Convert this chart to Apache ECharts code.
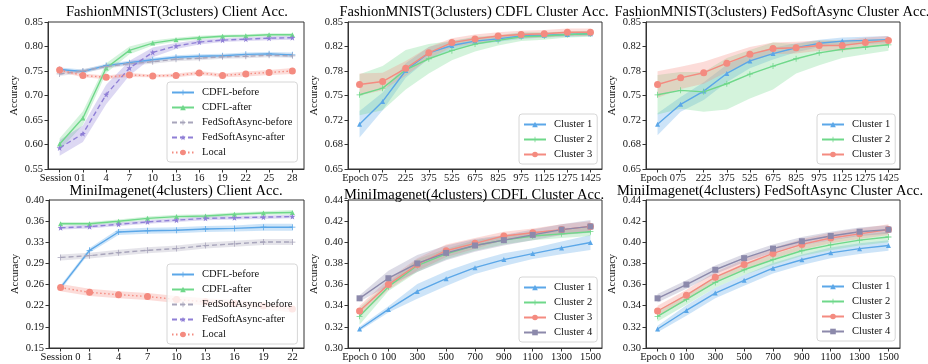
<!DOCTYPE html>
<html>
<head>
<meta charset="utf-8">
<script src="https://cdn.jsdelivr.net/npm/echarts@6/dist/echarts.min.js"></script>
<style>
  html, body { margin: 0; padding: 0; background: #fff; }
  #main { width: 928px; height: 364px; }
</style>
</head>
<body>
<div id="main"></div>
<script>
// x tick labels
var fmSessions = ['Session 0', '1', '4', '7', '10', '13', '16', '19', '22', '25', '28'];
var fmEpochs = ['Epoch 0', '75', '225', '375', '525', '675', '825', '975', '1125', '1275', '1425'];
var miSessions = ['Session 0', '1', '4', '7', '10', '13', '16', '19', '22'];
var miEpochs = ['Epoch 0', '100', '300', '500', '700', '900', '1100', '1300', '1500'];

// y tick values
var fmClientTicks = [0.55, 0.60, 0.65, 0.70, 0.75, 0.80, 0.85];
var fmClusterTicks = [0.65, 0.6833, 0.7167, 0.75, 0.7833, 0.8167, 0.85];
var miClientTicks = [0.15, 0.1857, 0.2214, 0.2571, 0.2929, 0.3286, 0.3643, 0.40];
var miClusterTicks = [0.30, 0.32, 0.34, 0.36, 0.38, 0.40, 0.42, 0.44];

// FashionMNIST client acc. (mean, spread)
var fmCdflBefore = [0.753, 0.749, 0.761, 0.767, 0.773, 0.778, 0.780, 0.781, 0.784, 0.785, 0.783];
var fmCdflBeforeErr = [0.004, 0.004, 0.004, 0.004, 0.004, 0.004, 0.004, 0.004, 0.004, 0.004, 0.005];
var fmCdflAfter = [0.601, 0.654, 0.756, 0.792, 0.807, 0.814, 0.818, 0.821, 0.822, 0.824, 0.824];
var fmCdflAfterErr = [0.012, 0.014, 0.010, 0.008, 0.005, 0.004, 0.004, 0.003, 0.003, 0.003, 0.003];
var fmFsaBefore = [0.744, 0.750, 0.759, 0.765, 0.769, 0.774, 0.776, 0.779, 0.780, 0.782, 0.781];
var fmFsaBeforeErr = [0.004, 0.004, 0.004, 0.004, 0.004, 0.004, 0.004, 0.004, 0.004, 0.004, 0.004];
var fmFsaAfter = [0.593, 0.622, 0.702, 0.756, 0.788, 0.801, 0.809, 0.813, 0.815, 0.817, 0.818];
var fmFsaAfterErr = [0.016, 0.017, 0.020, 0.015, 0.010, 0.006, 0.005, 0.004, 0.004, 0.004, 0.004];
var fmLocal = [0.752, 0.741, 0.737, 0.742, 0.740, 0.741, 0.746, 0.741, 0.744, 0.747, 0.750];
var fmLocalErr = [0.004, 0.004, 0.004, 0.004, 0.003, 0.004, 0.004, 0.004, 0.005, 0.005, 0.006];

// FashionMNIST CDFL clusters
var fmCdflC1 = [0.711, 0.742, 0.784, 0.808, 0.818, 0.824, 0.827, 0.831, 0.832, 0.833, 0.834];
var fmCdflC1Err = [0.018, 0.012, 0.010, 0.008, 0.006, 0.005, 0.004, 0.004, 0.003, 0.003, 0.003];
var fmCdflC2 = [0.751, 0.760, 0.785, 0.800, 0.811, 0.820, 0.825, 0.830, 0.831, 0.833, 0.834];
var fmCdflC2Err = [0.028, 0.030, 0.027, 0.020, 0.013, 0.010, 0.007, 0.006, 0.005, 0.004, 0.004];
var fmCdflC3 = [0.765, 0.769, 0.787, 0.808, 0.822, 0.827, 0.831, 0.833, 0.834, 0.836, 0.836];
var fmCdflC3Err = [0.015, 0.012, 0.010, 0.008, 0.006, 0.006, 0.005, 0.005, 0.005, 0.005, 0.005];

// FashionMNIST FedSoftAsync clusters
var fmFsaC1 = [0.711, 0.738, 0.756, 0.780, 0.797, 0.807, 0.815, 0.821, 0.824, 0.825, 0.826];
var fmFsaC1Err = [0.015, 0.010, 0.012, 0.012, 0.010, 0.008, 0.006, 0.005, 0.005, 0.005, 0.005];
var fmFsaC2 = [0.751, 0.757, 0.755, 0.766, 0.779, 0.790, 0.800, 0.808, 0.813, 0.816, 0.819];
var fmFsaC2Err = [0.027, 0.025, 0.027, 0.035, 0.033, 0.032, 0.020, 0.017, 0.012, 0.010, 0.008];
var fmFsaC3 = [0.765, 0.774, 0.781, 0.794, 0.806, 0.814, 0.815, 0.818, 0.818, 0.822, 0.825];
var fmFsaC3Err = [0.018, 0.015, 0.015, 0.012, 0.010, 0.008, 0.008, 0.007, 0.007, 0.007, 0.006];

// MiniImagenet client acc.
var miCdflBefore = [0.252, 0.315, 0.346, 0.348, 0.349, 0.351, 0.352, 0.354, 0.354];
var miCdflBeforeErr = [0.004, 0.004, 0.005, 0.005, 0.005, 0.005, 0.005, 0.006, 0.006];
var miCdflAfter = [0.360, 0.360, 0.364, 0.369, 0.372, 0.373, 0.376, 0.378, 0.379];
var miCdflAfterErr = [0.003, 0.003, 0.003, 0.003, 0.003, 0.003, 0.003, 0.003, 0.004];
var miFsaBefore = [0.303, 0.306, 0.311, 0.315, 0.318, 0.323, 0.326, 0.329, 0.329];
var miFsaBeforeErr = [0.005, 0.005, 0.005, 0.005, 0.005, 0.005, 0.005, 0.005, 0.005];
var miFsaAfter = [0.353, 0.355, 0.359, 0.363, 0.366, 0.369, 0.370, 0.371, 0.372];
var miFsaAfterErr = [0.003, 0.003, 0.003, 0.003, 0.003, 0.003, 0.003, 0.003, 0.003];
var miLocal = [0.252, 0.244, 0.240, 0.237, 0.232, 0.228, 0.225, 0.221, 0.216];
var miLocalErr = [0.006, 0.006, 0.006, 0.006, 0.006, 0.006, 0.006, 0.006, 0.006];

// MiniImagenet CDFL clusters
var miCdflC1 = [0.318, 0.3365, 0.3535, 0.3656, 0.376, 0.3836, 0.3893, 0.3947, 0.3998];
var miCdflC1Err = [0.002, 0.003, 0.007, 0.007, 0.006, 0.006, 0.005, 0.006, 0.007];
var miCdflC2 = [0.330, 0.358, 0.378, 0.389, 0.397, 0.402, 0.406, 0.408, 0.410];
var miCdflC2Err = [0.008, 0.004, 0.006, 0.005, 0.005, 0.004, 0.004, 0.004, 0.004];
var miCdflC3 = [0.335, 0.360, 0.379, 0.392, 0.399, 0.406, 0.409, 0.412, 0.415];
var miCdflC3Err = [0.005, 0.005, 0.006, 0.006, 0.005, 0.004, 0.004, 0.005, 0.005];
var miCdflC4 = [0.347, 0.366, 0.380, 0.390, 0.397, 0.402, 0.407, 0.412, 0.415];
var miCdflC4Err = [0.003, 0.007, 0.008, 0.007, 0.006, 0.005, 0.005, 0.005, 0.006];

// MiniImagenet FedSoftAsync clusters
var miFsaC1 = [0.318, 0.3355, 0.352, 0.364, 0.3755, 0.3835, 0.390, 0.394, 0.397];
var miFsaC1Err = [0.003, 0.005, 0.005, 0.005, 0.005, 0.005, 0.005, 0.005, 0.005];
var miFsaC2 = [0.330, 0.346, 0.362, 0.374, 0.3835, 0.392, 0.3975, 0.402, 0.405];
var miFsaC2Err = [0.005, 0.005, 0.005, 0.005, 0.005, 0.005, 0.005, 0.005, 0.005];
var miFsaC3 = [0.335, 0.350, 0.367, 0.379, 0.3895, 0.398, 0.404, 0.408, 0.412];
var miFsaC3Err = [0.005, 0.005, 0.005, 0.005, 0.005, 0.005, 0.005, 0.005, 0.005];
var miFsaC4 = [0.347, 0.360, 0.374, 0.385, 0.394, 0.401, 0.406, 0.410, 0.412];
var miFsaC4Err = [0.004, 0.004, 0.004, 0.004, 0.004, 0.004, 0.004, 0.004, 0.004];

var FONT = '"Liberation Serif", "Times New Roman", serif';
var PLUS = 'path://M-0.13,-1H0.13V-0.13H1V0.13H0.13V1H-0.13V0.13H-1V-0.13H-0.13Z';
var STAR = 'path://M0,-1L0.235,-0.324L0.951,-0.309L0.38,0.124L0.588,0.809L0,0.4L-0.588,0.809L-0.38,0.124L-0.951,-0.309L-0.235,-0.324Z';

var sty = {
  cdflBefore: { color: '#5ba7e8', symbol: PLUS, size: 6, dash: 'solid' },
  cdflAfter:  { color: '#6fd88a', symbol: 'triangle', size: 5, dash: 'solid' },
  fsaBefore:  { color: '#a8a5bb', symbol: PLUS, size: 6, dash: [5, 3] },
  fsaAfter:   { color: '#8f7fd6', symbol: STAR, size: 6, dash: [5, 3] },
  local:      { color: '#f48b80', symbol: 'circle', size: 7, dash: [1.5, 2.5] },
  c1: { color: '#5ba7e8', symbol: 'triangle', size: 5, dash: 'solid' },
  c2: { color: '#6fd88a', symbol: PLUS, size: 6, dash: 'solid' },
  c3: { color: '#f48b80', symbol: 'circle', size: 7, dash: 'solid' },
  c4: { color: '#8c89ab', symbol: 'rect', size: 6, dash: 'solid' }
};

var chart = echarts.init(document.getElementById('main'));

var grids = [
  { left: 48, top: 22, width: 256, height: 147 },
  { left: 348, top: 22, width: 254, height: 147 },
  { left: 646, top: 22, width: 254, height: 147 },
  { left: 49, top: 200, width: 255, height: 148 },
  { left: 348, top: 200, width: 254, height: 148 },
  { left: 646, top: 200, width: 254, height: 148 }
];
grids.forEach(function (g) {
  g.show = true;
  g.borderColor = '#333';
  g.borderWidth = 1;
  g.containLabel = false;
});

function xAxisFor(gi, labels) {
  var n = labels.length, pad = (n - 1) * 0.05;
  var idx = labels.map(function (l, i) { return i; });
  return {
    type: 'value', gridIndex: gi, min: -pad, max: n - 1 + pad,
    splitLine: { show: false },
    axisLine: { show: true, onZero: false, lineStyle: { color: '#333' } },
    axisTick: { show: true, length: 3.5, customValues: idx, lineStyle: { color: '#333' } },
    axisLabel: {
      customValues: idx, margin: 4, fontSize: 10.5, fontFamily: FONT, color: '#111',
      formatter: function (v) { return labels[Math.round(v)]; }
    }
  };
}

function yAxisFor(gi, ticks) {
  return {
    type: 'value', gridIndex: gi, min: ticks[0], max: ticks[ticks.length - 1],
    name: 'Accuracy', nameLocation: 'middle', nameGap: 28, nameRotate: 90,
    nameTextStyle: { fontSize: 10.5, fontFamily: FONT, color: '#111' },
    splitLine: { show: false },
    axisLine: { show: true, onZero: false, lineStyle: { color: '#333' } },
    axisTick: { show: true, length: 3.5, customValues: ticks, lineStyle: { color: '#333' } },
    axisLabel: {
      customValues: ticks, margin: 5, fontSize: 10.5, fontFamily: FONT, color: '#111',
      formatter: function (v) { return v.toFixed(2); }
    }
  };
}

var series = [];

function addLine(gi, name, vals, err, st) {
  series.push({
    type: 'custom', xAxisIndex: gi, yAxisIndex: gi, silent: true, z: 1,
    data: vals.map(function (v, i) { return [i, v - err[i], v + err[i]]; }),
    encode: { x: 0, y: [1, 2] },
    renderItem: function (params, api) {
      if (params.dataIndex !== 0) return;
      var pts = [];
      for (var i = 0; i < vals.length; i++) pts.push(api.coord([i, vals[i] + err[i]]));
      for (var j = vals.length - 1; j >= 0; j--) pts.push(api.coord([j, vals[j] - err[j]]));
      return { type: 'polygon', shape: { points: pts }, style: { fill: st.color, opacity: 0.3 } };
    }
  });
  series.push({
    type: 'line', name: name, xAxisIndex: gi, yAxisIndex: gi, z: 2,
    data: vals.map(function (v, i) { return [i, v]; }),
    symbol: st.symbol, symbolSize: st.size, showSymbol: true,
    lineStyle: { color: st.color, width: 1.4, type: st.dash },
    itemStyle: { color: st.color }
  });
}

addLine(0, 'CDFL-before', fmCdflBefore, fmCdflBeforeErr, sty.cdflBefore);
addLine(0, 'CDFL-after', fmCdflAfter, fmCdflAfterErr, sty.cdflAfter);
addLine(0, 'FedSoftAsync-before', fmFsaBefore, fmFsaBeforeErr, sty.fsaBefore);
addLine(0, 'FedSoftAsync-after', fmFsaAfter, fmFsaAfterErr, sty.fsaAfter);
addLine(0, 'Local', fmLocal, fmLocalErr, sty.local);

addLine(1, 'Cluster 1', fmCdflC1, fmCdflC1Err, sty.c1);
addLine(1, 'Cluster 2', fmCdflC2, fmCdflC2Err, sty.c2);
addLine(1, 'Cluster 3', fmCdflC3, fmCdflC3Err, sty.c3);

addLine(2, 'Cluster 1', fmFsaC1, fmFsaC1Err, sty.c1);
addLine(2, 'Cluster 2', fmFsaC2, fmFsaC2Err, sty.c2);
addLine(2, 'Cluster 3', fmFsaC3, fmFsaC3Err, sty.c3);

addLine(3, 'CDFL-before', miCdflBefore, miCdflBeforeErr, sty.cdflBefore);
addLine(3, 'CDFL-after', miCdflAfter, miCdflAfterErr, sty.cdflAfter);
addLine(3, 'FedSoftAsync-before', miFsaBefore, miFsaBeforeErr, sty.fsaBefore);
addLine(3, 'FedSoftAsync-after', miFsaAfter, miFsaAfterErr, sty.fsaAfter);
addLine(3, 'Local', miLocal, miLocalErr, sty.local);

addLine(4, 'Cluster 1', miCdflC1, miCdflC1Err, sty.c1);
addLine(4, 'Cluster 2', miCdflC2, miCdflC2Err, sty.c2);
addLine(4, 'Cluster 3', miCdflC3, miCdflC3Err, sty.c3);
addLine(4, 'Cluster 4', miCdflC4, miCdflC4Err, sty.c4);

addLine(5, 'Cluster 1', miFsaC1, miFsaC1Err, sty.c1);
addLine(5, 'Cluster 2', miFsaC2, miFsaC2Err, sty.c2);
addLine(5, 'Cluster 3', miFsaC3, miFsaC3Err, sty.c3);
addLine(5, 'Cluster 4', miFsaC4, miFsaC4Err, sty.c4);

var clientNames = ['CDFL-before', 'CDFL-after', 'FedSoftAsync-before', 'FedSoftAsync-after', 'Local'];
function legendAt(left, top, names) {
  return {
    data: names, left: left, top: top, orient: 'vertical',
    backgroundColor: 'rgba(255,255,255,0.8)', borderColor: '#d6d6d6', borderWidth: 1, borderRadius: 3,
    padding: [4, 5, 3, 4], itemWidth: 22, itemHeight: 7, itemGap: 2, selectedMode: false,
    textStyle: { fontSize: 10.5, fontFamily: FONT, color: '#111', lineHeight: 13, padding: [0, 0, 0, 3] }
  };
}

function title(x, y, text) {
  return {
    type: 'text', x: x, y: y, z: 10,
    style: {
      text: text, fontSize: 14.5, fontFamily: FONT, fill: '#000',
      textAlign: 'center', textVerticalAlign: 'middle', align: 'center', verticalAlign: 'middle'
    }
  };
}

chart.setOption({
  animation: false,
  grid: grids,
  xAxis: [
    xAxisFor(0, fmSessions), xAxisFor(1, fmEpochs), xAxisFor(2, fmEpochs),
    xAxisFor(3, miSessions), xAxisFor(4, miEpochs), xAxisFor(5, miEpochs)
  ],
  yAxis: [
    yAxisFor(0, fmClientTicks), yAxisFor(1, fmClusterTicks), yAxisFor(2, fmClusterTicks),
    yAxisFor(3, miClientTicks), yAxisFor(4, miClusterTicks), yAxisFor(5, miClusterTicks)
  ],
  legend: [
    legendAt(167, 82, clientNames),
    legendAt(519, 114, ['Cluster 1', 'Cluster 2', 'Cluster 3']),
    legendAt(817, 114, ['Cluster 1', 'Cluster 2', 'Cluster 3']),
    legendAt(167, 264, clientNames),
    legendAt(519, 277, ['Cluster 1', 'Cluster 2', 'Cluster 3', 'Cluster 4']),
    legendAt(817, 276, ['Cluster 1', 'Cluster 2', 'Cluster 3', 'Cluster 4'])
  ],
  graphic: [
    title(177, 12, 'FashionMNIST(3clusters) Client Acc.'),
    title(474, 12, 'FashionMNIST(3clusters) CDFL Cluster Acc.'),
    title(772, 12, 'FashionMNIST(3clusters) FedSoftAsync Cluster Acc.'),
    title(176, 191, 'MiniImagenet(4clusters) Client Acc.'),
    title(474, 195, 'MiniImagenet(4clusters) CDFL Cluster Acc.'),
    title(770, 191, 'MiniImagenet(4clusters) FedSoftAsync Cluster Acc.')
  ],
  series: series
});
</script>
</body>
</html>
